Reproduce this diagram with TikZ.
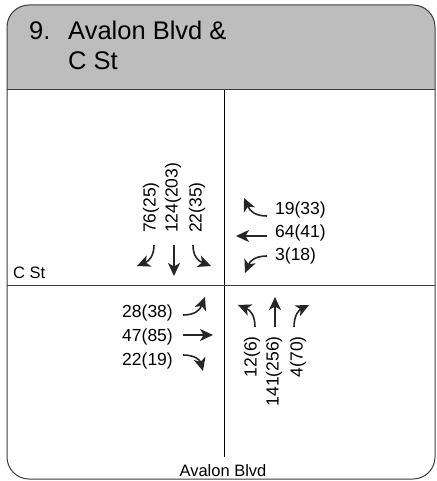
\documentclass[tikz,border=0pt]{standalone}
\usepackage{fontspec}
\setmainfont{Liberation Sans}
\usetikzlibrary{arrows.meta}
\definecolor{headgray}{RGB}{189,189,189}
\definecolor{framegray}{RGB}{60,60,60}

\begin{document}
\begin{tikzpicture}[
  x=1pt, y=-1pt,
  title/.style={anchor=base west, inner sep=0pt, font=\fontsize{25.5}{30}\selectfont},
  vol/.style={inner sep=0pt, font=\fontsize{17.5}{20}\selectfont},
  street/.style={inner sep=0pt, font=\fontsize{16.5}{19}\selectfont},
  move/.style={line width=1.6pt, color=black!85, -{Stealth[length=13pt,width=12pt,inset=3.5pt]}}
]
  \useasboundingbox (0,0) rectangle (436,481);

  % header band
  \begin{scope}
    \clip[rounded corners=22] (7,5) rectangle (435,479);
    \fill[headgray] (7,5) rectangle (435,90);
  \end{scope}
  \draw[framegray, line width=1pt] (7,90) -- (435,90);
  \draw[framegray, line width=1pt, rounded corners=22] (7,5) rectangle (435,479);

  \node[title] (num)   at (29,40) {9.};
  \node[title] (name1) at (68,40) {Avalon Blvd \&};
  \node[title] (name2) at (68,70) {C St};

  % roads
  \draw[line width=0.8pt] (224,90) -- (224,457);
  \draw[framegray, line width=0.8pt] (7,285) -- (435,285);
  \node[street, anchor=base west]   (cst)    at (13,278)  {C St};
  \node[street, anchor=base]        (avalon) at (223,476) {Avalon Blvd};

  % southbound
  \node[vol, rotate=90, anchor=west] (sbL) at (151,233) {76(25)};
  \node[vol, rotate=90, anchor=west] (sbT) at (173,233) {124(203)};
  \node[vol, rotate=90, anchor=west] (sbR) at (197,233) {22(35)};
  \draw[move] (154,245) .. controls (154,256) and (149,261) .. (137,266);
  \draw[move] (174,245) -- (174,276);
  \draw[move] (193,245) .. controls (193,256) and (198,261) .. (211,266);

  % westbound
  \node[vol, anchor=west] (wbR) at (275,210) {19(33)};
  \node[vol, anchor=west] (wbT) at (275,233) {64(41)};
  \node[vol, anchor=west] (wbL) at (275,256) {3(18)};
  \draw[move] (267,216) .. controls (255,216) and (250,211) .. (244,198);
  \draw[move] (267,236) -- (236,236);
  \draw[move] (267,256) .. controls (255,256) and (250,261) .. (245,273);

  % eastbound
  \node[vol, anchor=east] (ebL) at (173,313) {28(38)};
  \node[vol, anchor=east] (ebT) at (173,337) {47(85)};
  \node[vol, anchor=east] (ebR) at (173,361) {22(19)};
  \draw[move] (183,315) .. controls (195,315) and (200,310) .. (205,297);
  \draw[move] (183,335) -- (213,335);
  \draw[move] (183,355) .. controls (195,355) and (200,360) .. (203,371);

  % northbound
  \node[vol, rotate=90, anchor=east] (nbL) at (252,336) {12(6)};
  \node[vol, rotate=90, anchor=east] (nbT) at (274,336) {141(256)};
  \node[vol, rotate=90, anchor=east] (nbR) at (298,336) {4(70)};
  \draw[move] (255,327) .. controls (255,315) and (250,310) .. (238,305);
  \draw[move] (275,327) -- (275,297);
  \draw[move] (294,327) .. controls (294,315) and (299,310) .. (309,305);
\end{tikzpicture}
\end{document}
